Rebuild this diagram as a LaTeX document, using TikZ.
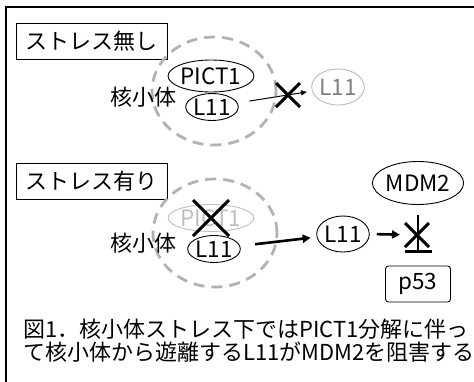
\documentclass[tikz,border=0pt]{standalone}
\usepackage{fontspec}
\setmainfont{Noto Sans CJK JP}
\usetikzlibrary{shapes.geometric,arrows.meta}
\begin{document}
\begin{tikzpicture}[x=1pt,y=-1pt,
  jp/.style={font=\fontsize{22}{22}\selectfont, inner sep=0},
  oval/.style={ellipse, draw, line width=0.9pt, inner sep=0, font=\fontsize{22.5}{22}\selectfont},
  faded/.style={draw=black!28, text=black!50},
  ghost/.style={draw=black!25, text=black!25},
  nucleolus/.style={ellipse, draw=black!30, dashed, dash pattern=on 11pt off 7pt, line width=2.8pt, minimum width=124pt, minimum height=108pt, inner sep=0},
  labelbox/.style={draw, line width=0.9pt, minimum width=151pt, minimum height=36pt, inner sep=0, font=\fontsize{22}{22}\selectfont},
  crossmark/.style={line width=3pt, line cap=butt},
  thinarrow/.style={line width=1pt, -{Triangle[length=6pt,width=5pt]}},
  thickarrow/.style={line width=2.6pt, -{Triangle[length=8pt,width=8pt]}}
]
\useasboundingbox (0,0) rectangle (474,381);
\begin{scope}
\clip (0,0) rectangle (474,381);
\draw[line width=2pt] (6,395) -- (6,7) -- (480,7);
\end{scope}

% --- without stress ---
\node[labelbox] (box1) at (91.5,41) {ストレス無し};
\node[nucleolus] (nuc1) at (214,91) {};
\node[oval, minimum width=71pt, minimum height=32pt] (pict1a) at (211,76) {PICT1};
\node[oval, minimum width=52pt, minimum height=27pt] (l11a) at (212,107) {L11};
\node[jp, anchor=east] (nlab1) at (177,97) {核小体};
\node[oval, faded, minimum width=51pt, minimum height=36pt] (l11g) at (338,87) {L11};
\draw[thinarrow, shorten <=12pt, shorten >=5pt] (l11a) -- (l11g);
\coordinate (x1) at (288,95);
\draw[crossmark] ([shift={(-12,-12)}]x1) -- ([shift={(12,12)}]x1)
                 ([shift={(-12,12)}]x1) -- ([shift={(12,-12)}]x1);

% --- with stress ---
\node[labelbox] (box2) at (91.5,181) {ストレス有り};
\node[nucleolus] (nuc2) at (215,233) {};
\node[oval, ghost, minimum width=71pt, minimum height=27pt] (pict1b) at (211,218) {PICT1};
\node[oval, minimum width=51pt, minimum height=27pt] (l11b) at (214,249) {L11};
\node[jp, anchor=east] (nlab2) at (177,243) {核小体};
\draw[crossmark] ([shift={(-18,-18)}]pict1b.center) -- ([shift={(18,18)}]pict1b.center)
                 ([shift={(-18,18)}]pict1b.center) -- ([shift={(18,-18)}]pict1b.center);
\node[oval, minimum width=50pt, minimum height=36pt] (l11c) at (343,234) {L11};
\draw[thickarrow, shorten <=15pt, shorten >=6pt] (l11b) -- (l11c);

\node[oval, minimum width=66pt, minimum height=43pt] (mdm2) at (418,183) {MDM2};
\node[draw, rounded corners=3pt, line width=0.9pt, minimum width=65pt, minimum height=36pt, inner sep=0, font=\fontsize{22.5}{22}\selectfont] (p53) at (418,284) {p53};
\draw[line width=2.5pt, -{Bar[width=27pt,line width=2.5pt]}, shorten <=10pt, shorten >=13pt] (mdm2) -- (p53);
\coordinate (hit) at (417,235);
\draw[thickarrow, shorten <=7pt, shorten >=17pt] (l11c.east) -- (hit);
\draw[crossmark] ([shift={(-12,-12)}]hit) -- ([shift={(12,12)}]hit)
                 ([shift={(-12,12)}]hit) -- ([shift={(12,-12)}]hit);

% --- caption ---
\node[jp, anchor=west] (cap1) at (23,329) {図1．核小体ストレス下ではPICT1分解に伴っ};
\node[jp, anchor=west] (cap2) at (23,352) {て核小体から遊離するL11がMDM2を阻害する};
\end{tikzpicture}
\end{document}
